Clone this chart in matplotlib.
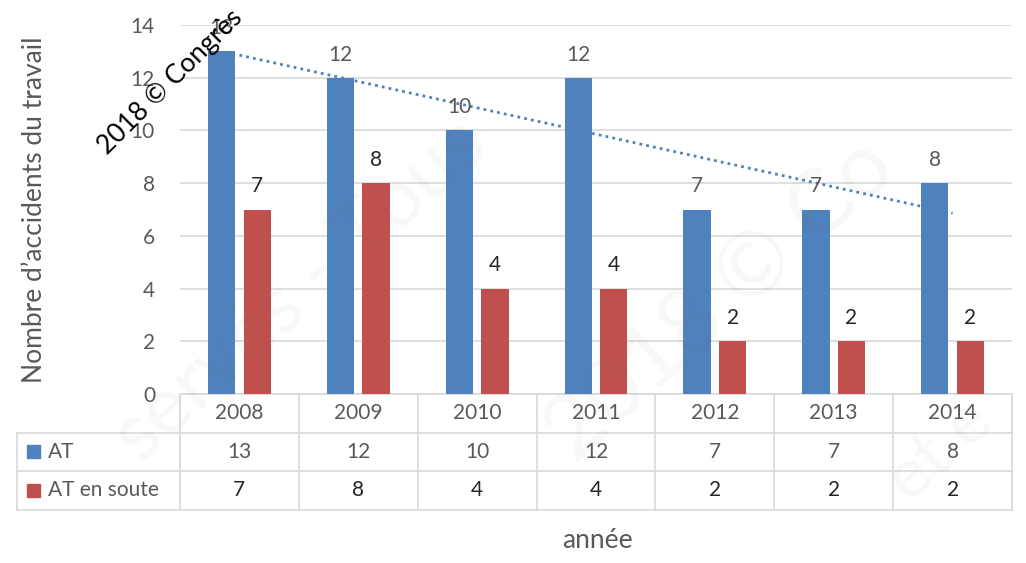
import numpy as np
import matplotlib
matplotlib.use("Agg")
import matplotlib.pyplot as plt
from matplotlib.patches import Rectangle

plt.rcParams["font.family"] = ["Lato", "DejaVu Sans"]

years = ["2008", "2009", "2010", "2011", "2012", "2013", "2014"]
at = [13, 12, 10, 12, 7, 7, 8]
at_soute = [7, 8, 4, 4, 2, 2, 2]
series_names = ["AT", "AT en soute"]

blue = "#4F81BD"
red = "#C0504D"
grid_c = "#D9D9D9"
txt_c = "#595959"
dark_c = "#262626"

fig = plt.figure(figsize=(10.26, 5.63), dpi=100)
ax = fig.add_axes([180 / 1026, 1 - 394 / 563, 832 / 1026, 369 / 563])

x = np.arange(len(years))
w = 0.23
gap = 0.035
ax.bar(x - w / 2 - gap, at, width=w, color=blue, zorder=3)
ax.bar(x + w / 2 + gap, at_soute, width=w, color=red, zorder=3)

# labels above bars
for i in range(len(years)):
    ax.text(x[i] - w / 2 - gap, at[i] + 0.5, str(at[i]), ha="center", va="bottom",
            fontsize=15, color=txt_c, zorder=5)
    ax.text(x[i] + w / 2 + gap, at_soute[i] + 0.5, str(at_soute[i]), ha="center", va="bottom",
            fontsize=15, color=dark_c, zorder=5)

# linear trend on AT (drawn behind the bars)
coef = np.polyfit(x + 1, at, 1)
trend = np.polyval(coef, x + 1)
ax.plot(x, trend, linestyle=(0, (1, 1.5)), color=blue, linewidth=2, zorder=2.5)

ax.set_xlim(-0.5, len(years) - 0.5)
ax.set_ylim(0, 14)
ax.set_yticks(range(0, 15, 2))
ax.yaxis.grid(True, color=grid_c, linewidth=1.2)
ax.set_axisbelow(True)
ax.tick_params(axis="y", length=0, labelsize=15, labelcolor=txt_c, pad=18)
ax.set_xticks([])
for s in ["top", "right", "left"]:
    ax.spines[s].set_visible(False)
ax.spines["bottom"].set_color(grid_c)
ax.spines["bottom"].set_linewidth(1.2)
ax.patch.set_alpha(0)

fig.text(35 / 1026, 1 - 210 / 563, "Nombre d\u2019accidents du travail", rotation=90,
         ha="center", va="center", fontsize=19, color=txt_c)

# data table under the chart
tr = ax.get_xaxis_transform()
row_h = 38.5 / 369
left_x = -0.5 - 163 / (832 / 7)
rows = [years, [str(v) for v in at], [str(v) for v in at_soute]]
lc = grid_c
for r in range(3):
    yc = -(r + 0.5) * row_h
    for i in range(len(years)):
        ax.text(x[i], yc, rows[r][i], transform=tr, ha="center", va="center",
                fontsize=15, color=dark_c if r == 2 else txt_c, clip_on=False)
for r in range(1, 4):
    ax.plot([left_x, len(years) - 0.5], [-r * row_h, -r * row_h], transform=tr,
            color=lc, lw=1.2, clip_on=False)
for b in np.arange(-0.5, len(years)):
    ax.plot([b, b], [0, -3 * row_h], transform=tr, color=lc, lw=1.2, clip_on=False)
ax.plot([left_x, left_x], [-row_h, -3 * row_h], transform=tr, color=lc, lw=1.2, clip_on=False)

# legend keys in table
fig.canvas.draw()
for r, (name, c) in enumerate(zip(series_names, [blue, red])):
    yc = -(r + 1.5) * row_h
    ypix = ax.transAxes.transform((0, yc))[1]
    fig.patches.append(Rectangle((27 / 1026, (ypix - 6.5) / 563), 13 / 1026, 13 / 563,
                                 color=c, transform=fig.transFigure, figure=fig))
    ax.text(left_x + 0.26, yc, name, transform=tr, ha="left", va="center",
            fontsize=15, color=txt_c, clip_on=False)

fig.text(597 / 1026, 1 - 541 / 563, "ann\u00e9e", ha="center", va="center", fontsize=19, color=txt_c)

# faint background watermark (kept inside the figure)
for cx, cy, s, fs in [(300, 290, "serv\u00e9s - Tous", 58), (720, 300, "2018 \u00a9 Co", 64),
                      (940, 450, "et \u00e9", 50)]:
    fig.text(cx / 1026, 1 - cy / 563, s, rotation=42, ha="center", va="center",
             fontsize=fs, color="#808080", alpha=0.06, zorder=20)

fig.text(170 / 1026, 1 - 82 / 563, "2018 \u00a9 Congr\u00e8s", rotation=45, ha="center",
         va="center", fontsize=19, color="black", zorder=10)

fig.savefig("out.png", dpi=100)
